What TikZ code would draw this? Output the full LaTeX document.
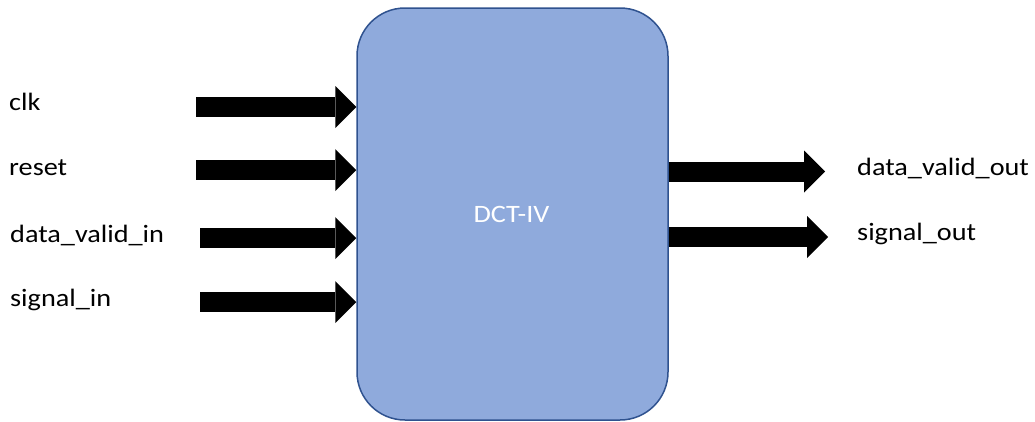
\documentclass[tikz,border=0pt]{standalone}
\usepackage{fontspec}
\setmainfont{Carlito}
\usetikzlibrary{arrows.meta}
\definecolor{blockfill}{HTML}{8FAADC}
\definecolor{blockedge}{HTML}{2F528F}
\newcommand{\sig}[1]{\scalebox{1.13}[1]{#1}}
\begin{document}
\begin{tikzpicture}[x=1pt,y=-1pt,
  lbl/.style={font=\fontsize{25}{30}\selectfont, inner sep=0pt, anchor=base west},
  blockarrow/.style={line width=20pt, draw=black,
    -{Triangle[length=21pt,width=42pt,line width=0pt]}},
  core/.style={draw=blockedge, line width=1.5pt, fill=blockfill,
    rounded corners=48pt, minimum width=311pt, minimum height=412pt,
    inner sep=0pt}]
\useasboundingbox (0,0) rectangle (1035,421);

% the transform block
\node[core] (dct) at (512.5,214) {};
\node[font=\fontsize{25}{30}\selectfont, text=white, inner sep=0pt, anchor=base]
  (title) at (511.5,222) {\sig{DCT-IV}};

% input signal names
\node[lbl] (clk)   at (9,110)   {\sig{clk}};
\node[lbl] (reset) at (9,175)   {\sig{reset}};
\node[lbl] (dvin)  at (10,242)  {\sig{data\_valid\_in}};
\node[lbl] (sin)   at (10,306.5){\sig{signal\_in}};

% output signal names
\node[lbl] (dvout) at (857,175) {\sig{data\_valid\_out}};
\node[lbl] (sout)  at (857,240) {\sig{signal\_out}};

% arrow tails and heads
\coordinate (clkS)   at (196,107);
\coordinate (resetS) at (196,170);
\coordinate (dvinS)  at (200,238);
\coordinate (sinS)   at (200,302);
\coordinate (dvoutE) at (825,171.5);
\coordinate (soutE)  at (828,237);

% inputs into the block
\draw[blockarrow] (clkS)   -- (clkS -| dct.west);
\draw[blockarrow] (resetS) -- (resetS -| dct.west);
\draw[blockarrow] (dvinS)  -- (dvinS -| dct.west);
\draw[blockarrow] (sinS)   -- (sinS -| dct.west);

% outputs from the block
\draw[blockarrow] (dvoutE -| dct.east) -- (dvoutE);
\draw[blockarrow] (soutE -| dct.east)  -- (soutE);
\end{tikzpicture}
\end{document}
